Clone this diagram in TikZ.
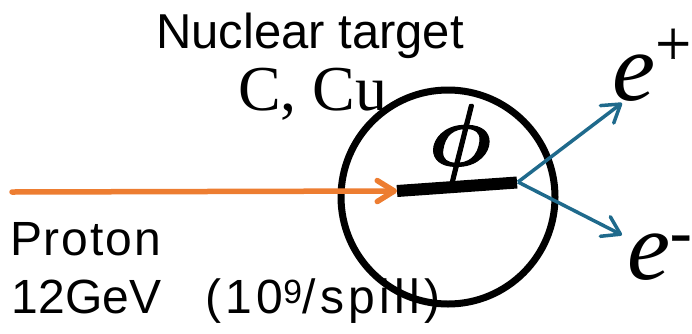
\documentclass[tikz,border=0pt]{standalone}
\usepackage{fontspec}
\setmainfont{Liberation Serif}
\newfontfamily\gsans{Liberation Sans}
\newfontfamily\gsansB[LetterSpace=4]{Liberation Sans}
\newfontfamily\gsansC[LetterSpace=9]{Liberation Sans}
\newfontfamily\phifont[FakeBold=1.2]{latinmodern-math.otf}
\newfontfamily\lepfont[FakeBold=0.6]{Liberation Serif}
\usetikzlibrary{arrows.meta}
\definecolor{porange}{RGB}{237,125,49}
\definecolor{eblue}{RGB}{31,106,140}
\tikzset{
  lbl/.style={inner sep=0pt, outer sep=0pt, anchor=base west},
  beam/.style={draw=porange, line width=5.5pt, line cap=round,
    -{Straight Barb[length=17pt,width=21pt,round]}},
  lepton/.style={draw=eblue, line width=3.5pt,
    -{Straight Barb[length=17pt,width=22pt,round]}},
}
\begin{document}
\begin{tikzpicture}[x=1pt,y=-1pt]
\useasboundingbox (0,0) rectangle (692,333);
% target circle
\node (tgt) [circle, draw, line width=7pt, minimum size=214pt, inner sep=0pt] at (448,197) {};
% phi bar
\coordinate (barL) at (397,191);
\coordinate (barR) at (517,182.5);
\draw[line width=12pt] (barL) -- (barR);
% beam
\coordinate (pstart) at (12,192);
\draw[beam] (pstart) -- (barL);
% leptons
\coordinate (vtx) at (518,182);
\coordinate (epend) at (622,103);
\coordinate (emend) at (622,235);
\draw[lepton] (vtx) -- (epend);
\draw[lepton] (vtx) -- (emend);
% phi
\node (phi) [inner sep=0pt, anchor=base] at (460,165.4) {\phifont\fontsize{88}{88}\selectfont\symbol{"1D753}};
% labels
\node (nt) [lbl] at (156,48) {\gsans\fontsize{49}{49}\selectfont Nuclear target};
\node (ccu) [lbl] at (238,110) {\fontsize{64}{64}\selectfont C, Cu};
\node (prot) [lbl] at (10,255) {\gsansB\fontsize{48}{48}\selectfont Proton};
\node (gev) [lbl] at (12,313) {\gsans\fontsize{48}{48}\selectfont 12GeV\hspace{44pt}{\gsansC (10\textsuperscript{9}/spill)}};
\node (ep) [lbl] at (612,100) {{\fontsize{97}{97}\selectfont\itshape e}\raisebox{35pt}{\lepfont\fontsize{64}{64}\selectfont +}};
\node (em) [lbl] at (627,279) {{\fontsize{97}{97}\selectfont\itshape e}\raisebox{26pt}{\lepfont\fontsize{64}{64}\selectfont -}};
\end{tikzpicture}
\end{document}
